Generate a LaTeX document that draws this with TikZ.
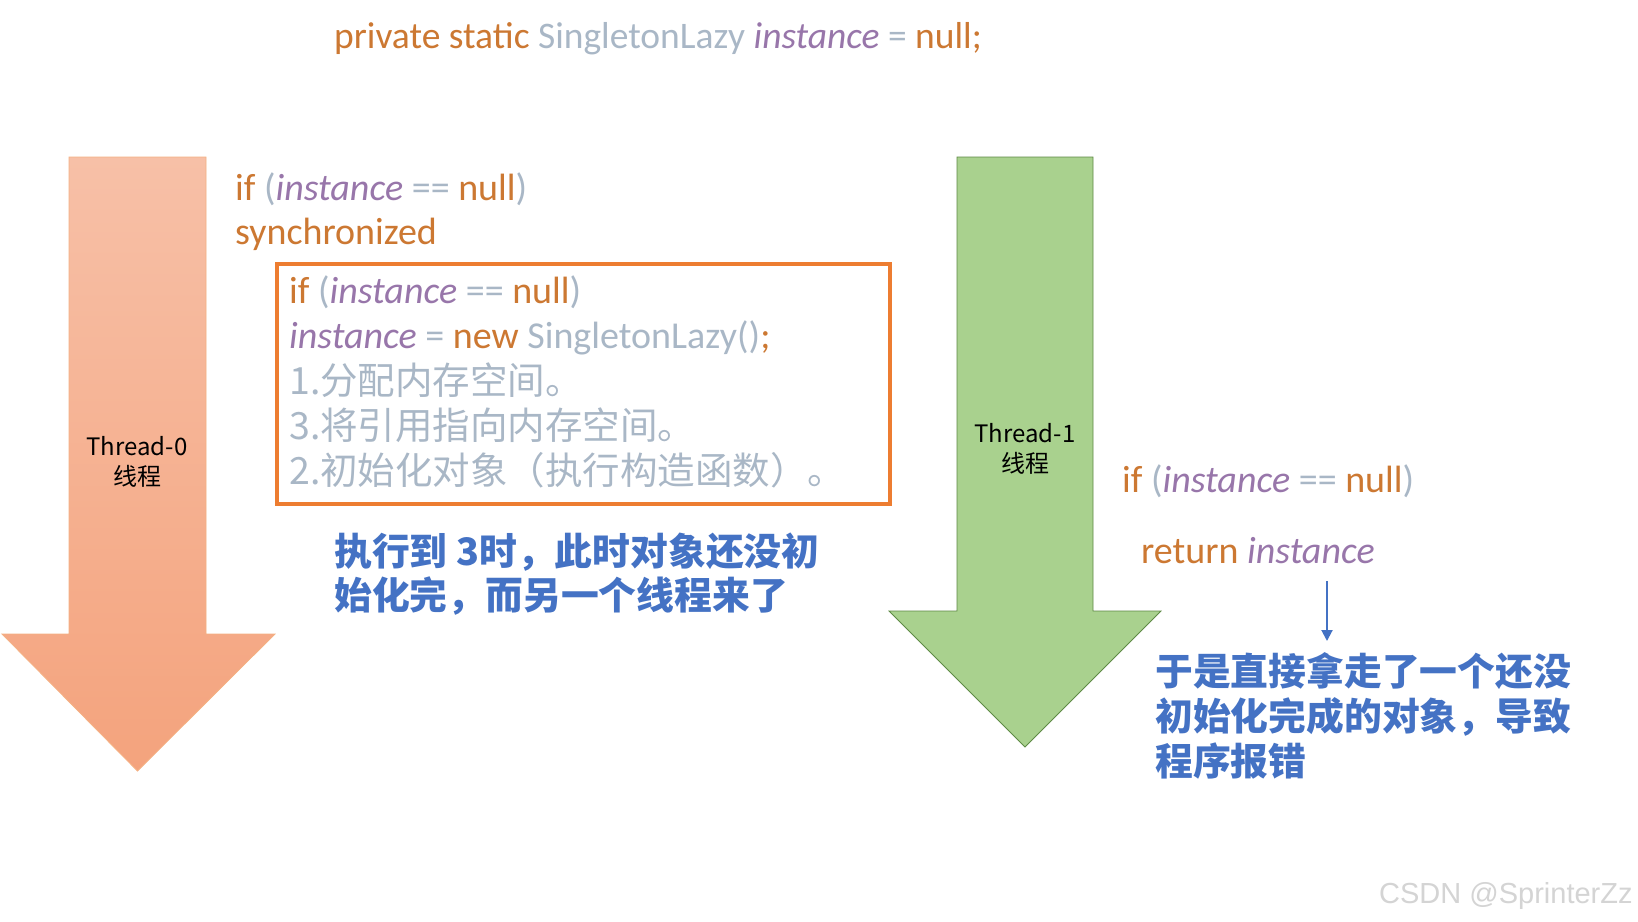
\documentclass[tikz,border=0pt]{standalone}
\usepackage{fontspec}
\setmainfont{Carlito}
\newfontfamily\cjk{Noto Sans CJK SC}
\newfontfamily\wmfont{Liberation Sans}
\usetikzlibrary{arrows.meta}
\definecolor{kwc}{HTML}{CC7832}
\definecolor{fldc}{HTML}{9876AA}
\definecolor{txc}{HTML}{A9B7C6}
\definecolor{notec}{HTML}{4472C4}
\definecolor{boxc}{HTML}{ED7D31}
\definecolor{arrAtop}{HTML}{F7C0A7}
\definecolor{arrAbot}{HTML}{F4A37D}
\definecolor{arrAedge}{HTML}{F4B183}
\definecolor{arrB}{HTML}{A9D18E}
\definecolor{arrBedge}{HTML}{5E8A45}
\definecolor{wmc}{HTML}{D4D4D4}
\newcommand\kwd[1]{\textcolor{kwc}{#1}}
\newcommand\fldi[1]{\textcolor{fldc}{\itshape #1}}
\newcommand\txg[1]{\textcolor{txc}{#1}}
\begin{document}
\begin{tikzpicture}[x=1pt,y=-1pt,
  code/.style={anchor=base west, inner sep=0pt, font=\fontsize{38}{46}\selectfont},
  cjkgray/.style={anchor=base west, inner sep=0pt, text=txc, font=\cjk\fontsize{37.5}{44}\selectfont},
  notetext/.style={anchor=base west, inner sep=0pt, text=notec, font=\cjk\bfseries\fontsize{37.8}{44}\selectfont},
  threadlabel/.style={align=center, inner sep=0pt, font=\cjk\fontsize{24}{30}\selectfont}]
\useasboundingbox (0,0) rectangle (1638,921);
\fill[white] (0,0) rectangle (1638,921);

% thread arrows
\path[draw=arrAedge, line width=0.8pt, top color=arrAtop, bottom color=arrAbot]
  (69,157) -- (206,157) -- (206,634) -- (275,634) -- (137.5,771) -- (2,634) -- (69,634) -- cycle;
\path[draw=arrBedge, line width=0.8pt, fill=arrB]
  (957,157) -- (1093,157) -- (1093,611) -- (1161,611) -- (1025,747) -- (889,611) -- (957,611) -- cycle;
\node[threadlabel] (t0) at (137,462) {Thread-0\\线程};
\node[threadlabel] (t1) at (1025,449) {Thread-1\\线程};

% declaration
\node[code, font=\fontsize{37.5}{46}\selectfont] (decl) at (334,48) {\kwd{private static} \txg{SingletonLazy} \fldi{instance} \txg{=} \kwd{null;}};

% thread 0 code
\node[code] (if0) at (235,200) {\kwd{if} \txg{(}\fldi{instance} \txg{==} \kwd{null}\txg{)}};
\node[code] (sync) at (235,244) {\kwd{synchronized}};

\node[draw=boxc, line width=4pt, minimum width=613pt, minimum height=240pt, anchor=north west, inner sep=0pt] (box) at (275,262) {};
\node[code] (if1) at (289,303) {\kwd{if} \txg{(}\fldi{instance} \txg{==} \kwd{null}\txg{)}};
\node[code] (newl) at (289,348) {\fldi{instance} \txg{=} \kwd{new} \txg{SingletonLazy()}\kwd{;}};
\node[cjkgray] (s1) at (289,394) {1.分配内存空间。};
\node[cjkgray] (s3) at (289,439) {3.将引用指向内存空间。};
\node[cjkgray] (s2) at (289,484) {2.初始化对象（执行构造函数）。};

\node[notetext] (n1) at (334,565) {执行到 3时，此时对象还没初};
\node[notetext] (n2) at (334,609) {始化完，而另一个线程来了};

% thread 1 code
\node[code] (if2) at (1122,492) {\kwd{if} \txg{(}\fldi{instance} \txg{==} \kwd{null}\txg{)}};
\node[code] (ret) at (1141,563) {\kwd{return} \fldi{instance}};

\coordinate (a1) at (1327,581);
\coordinate (a2) at (1327,641);
\draw[notec, line width=2pt, -{Triangle[length=11pt,width=11pt]}] (a1) -- (a2);

\node[notetext] (m1) at (1155,685) {于是直接拿走了一个还没};
\node[notetext] (m2) at (1155,730) {初始化完成的对象，导致};
\node[notetext] (m3) at (1155,775) {程序报错};

\node[anchor=base west, inner sep=0pt, text=wmc, font=\wmfont\fontsize{29}{34}\selectfont] (wm) at (1379,903) {CSDN @SprinterZz};
\end{tikzpicture}
\end{document}
